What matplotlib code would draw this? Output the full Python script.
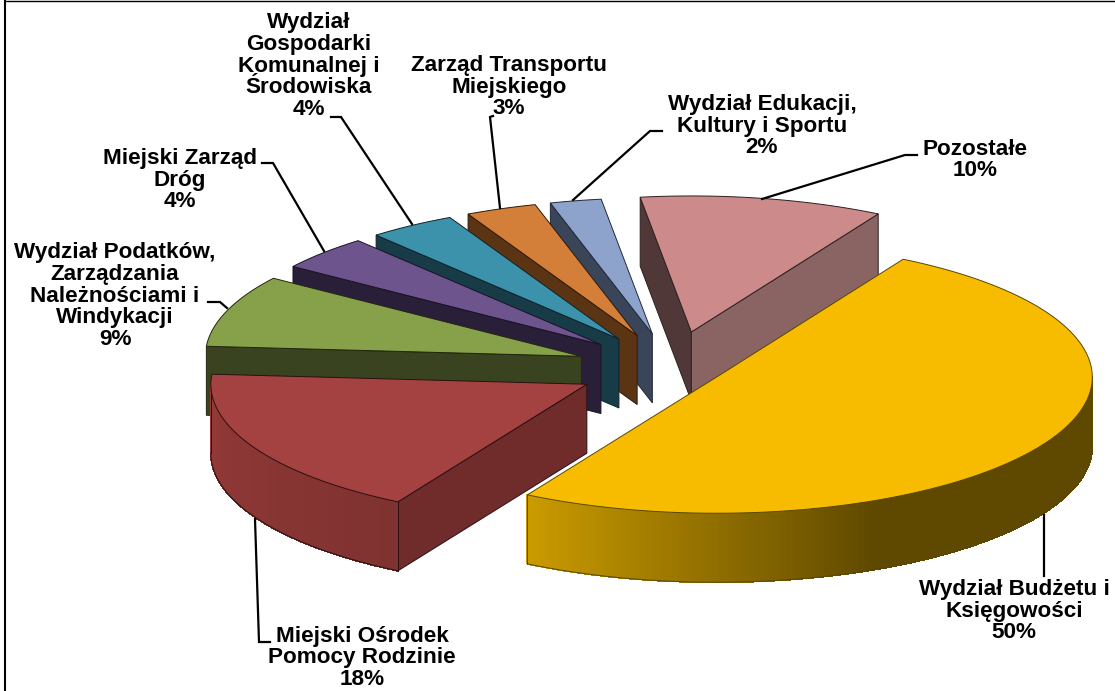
import numpy as np
import matplotlib
matplotlib.use("Agg")
import matplotlib.pyplot as plt
from matplotlib.collections import PolyCollection
from matplotlib.colors import to_rgb
from matplotlib.patches import Polygon

# Data, clockwise from the yellow slice
categories = ["Wydział Budżetu i\nKsięgowości",
              "Miejski Ośrodek\nPomocy Rodzinie",
              "Wydział Podatków,\nZarządzania\nNależnościami i\nWindykacji",
              "Miejski Zarząd\nDróg",
              "Wydział\nGospodarki\nKomunalnej i\nŚrodowiska",
              "Zarząd Transportu\nMiejskiego",
              "Wydział Edukacji,\nKultury i Sportu",
              "Pozostałe"]
values = [50.1, 17.8, 8.55, 4.1, 3.75, 3.05, 2.2, 10.45]

# Slice styles
explode = [0.136, 0.256, 0.256, 0.256, 0.256, 0.256, 0.256, 0.27]
top_colors = ["#F7BC00", "#A34240", "#87A14B", "#6E548D", "#3D92AB", "#D37F39", "#8DA3CB", "#CC8A8A"]
start_wall = ["#5F4900", "#702B2B", "#3A431F", "#2A1F38", "#183B48", "#5B3414", "#3B4559", "#513838"]
end_wall = ["#5F4900", "#702B2B", "#3A431F", "#2A1F38", "#183B48", "#5B3414", "#3B4559", "#8A6363"]
# outer wall colour at the right end and left end of the visible arc
rim_right = ["#5F4900", "#7F3230", "#3A431F", "#2A1F38", "#183B48", "#5B3414", "#3B4559", "#8A6363"]
rim_left = ["#CB9C00", "#933A38", "#3A431F", "#2A1F38", "#183B48", "#5B3414", "#3B4559", "#8A6363"]
edge_col = ["#5A4800", "#2A1010", "#20260F", "#1A1224", "#0D2229", "#2F1A08", "#222936", "#2E2020"]

# Pie geometry in pixels
start_angle = 29.8
cx, cy = 672, 368
rx, ry = 376, 136
depth = 69

# (label centre x, centre y), then leader line points
label_pos = [(1014, 611), (362, 658), (115, 296), (180, 180),
             (309, 66), (509, 87), (762, 126), (975, 160)]
leaders = [[(1044, 515), (1044, 576)],
           [(255, 519), (259, 642), (270, 642)],
           [(227, 308), (220, 302), (208, 302)],
           [(324, 251), (273, 163), (262, 163)],
           [(412, 224), (341, 117), (331, 117)],
           [(500, 208), (490, 117), (493, 116)],
           [(573, 200), (650, 131), (662, 131)],
           [(762, 199), (905, 155), (917, 155)]]

fig = plt.figure(figsize=(11.15, 6.91), dpi=100)
ax = fig.add_axes([0, 0, 1, 1])
ax.set_xlim(0, 1115)
ax.set_ylim(691, 0)
ax.axis("off")


def pt(ox, oy, t):
    t = np.radians(t)
    return ox + rx * np.sin(t), oy - ry * np.cos(t)


def wall(ox, oy, t, color, edge, z):
    x, y = pt(ox, oy, t)
    ax.add_patch(Polygon([(ox, oy), (x, y), (x, y + depth), (ox, oy + depth)],
                         closed=True, fc=color, ec=edge, lw=0.7, zorder=z))


total = sum(values)
edges = start_angle + np.cumsum([0] + values) * 360 / total

# back to front: pink first, then round the left side, yellow last
order = [7, 6, 5, 4, 3, 2, 1, 0]
for z, i in enumerate(order):
    a, b = edges[i], edges[i + 1]
    mid = np.radians((a + b) / 2)
    ox = cx + explode[i] * rx * np.sin(mid)
    oy = cy - explode[i] * ry * np.cos(mid)
    base = z * 10 + 2

    if np.sin(np.radians(a)) < 0:
        wall(ox, oy, a, start_wall[i], edge_col[i], base)
    if np.sin(np.radians(b)) > 0:
        wall(ox, oy, b, end_wall[i], edge_col[i], base)

    # outer wall, only the part that faces the viewer
    lo, hi = max(a, 90), min(b, 270)
    if hi > lo:
        ts = np.linspace(lo, hi, 160)
        quads = []
        cols = []
        c1, c2 = np.array(to_rgb(rim_right[i])), np.array(to_rgb(rim_left[i]))
        for t0, t1 in zip(ts[:-1], ts[1:]):
            x0, y0 = pt(ox, oy, t0)
            x1, y1 = pt(ox, oy, t1)
            quads.append([(x0, y0), (x1, y1), (x1, y1 + depth), (x0, y0 + depth)])
            # yellow stays dark round to the right, then lightens to the left
            f = np.clip((t0 - 155) / (hi - 155), 0, 1) if i == 0 else (t0 - lo) / (hi - lo)
            cols.append(c1 + (c2 - c1) * f)
        # no antialiasing here, it leaves seams between the strips
        ax.add_collection(PolyCollection(quads, facecolors=cols, edgecolors=cols, linewidths=0.6,
                                         antialiaseds=False, zorder=base + 1))
        tt = np.linspace(lo, hi, 160)
        bx, by = pt(ox, oy, tt)
        ax.plot(bx, by + depth, color=edge_col[i], lw=0.7, zorder=base + 2)
        for t_end in (lo, hi):
            ex, ey = pt(ox, oy, t_end)
            ax.plot([ex, ex], [ey, ey + depth], color=edge_col[i], lw=0.7, zorder=base + 2)

    # top face
    tt = np.linspace(a, b, 200)
    tx, ty = pt(ox, oy, tt)
    poly = [(ox, oy)] + list(zip(tx, ty))
    ax.add_patch(Polygon(poly, closed=True, fc=top_colors[i], ec=edge_col[i], lw=0.7, zorder=base + 3))

for line in leaders:
    xs, ys = zip(*line)
    ax.plot(xs, ys, color="black", lw=1.6, zorder=200, solid_joinstyle="miter")

for name, val, (lx, ly) in zip(categories, values, label_pos):
    ax.text(lx, ly, f"{name}\n{val:.0f}%", ha="center", va="center", multialignment="center",
            family="Liberation Sans", weight="bold", fontsize=16.2, linespacing=1.04,
            color="black", zorder=210)

# frame left of and above the chart
ax.plot([5, 5], [0, 691], color="black", lw=1.5, zorder=220)
ax.plot([5, 1115], [0.5, 0.5], color="black", lw=1.0, zorder=220)

fig.savefig("out.png", dpi=100)
